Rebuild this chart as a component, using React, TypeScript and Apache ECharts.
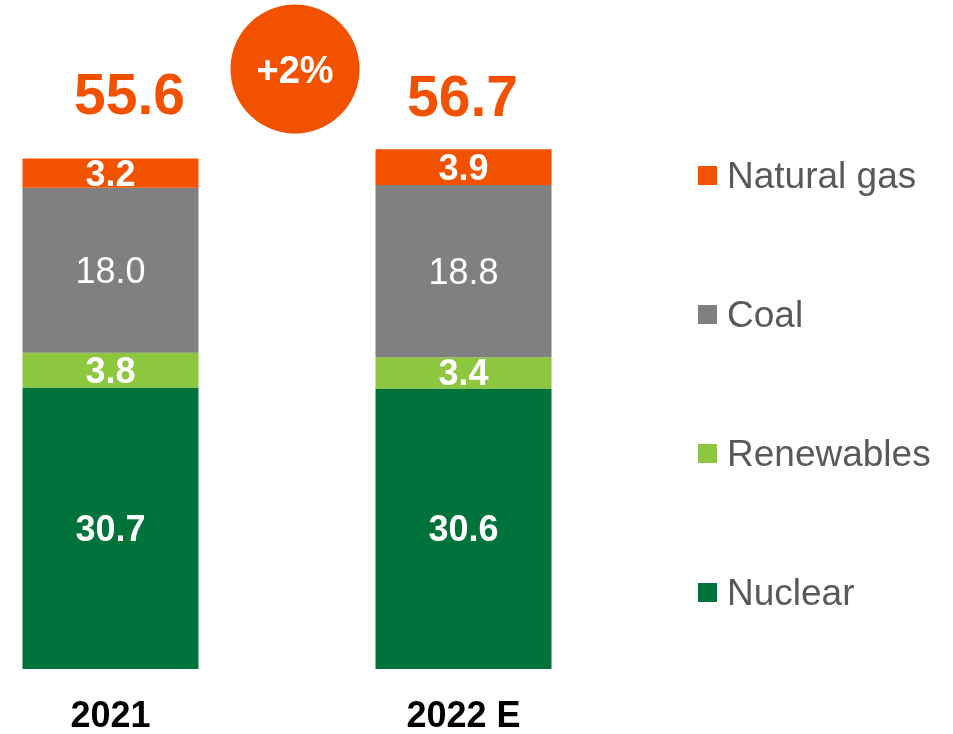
import React, { useEffect, useRef } from "react";
import * as echarts from "echarts";

const categories = ["2021", "2022 E"];
const nuclear = [30.7, 30.6];
const renewables = [3.8, 3.4];
const coal = [18.0, 18.8];
const naturalGas = [3.2, 3.9];
const totals = [55.6, 56.7];
const growthLabel = "+2%";

const FONT = "Arial, 'Liberation Sans', sans-serif";
const ORANGE = "#F25100";
const SHIFT = 66; // chart canvas extends past the left page edge

export default function App() {
  const ref = useRef<HTMLDivElement>(null);
  useEffect(() => {
    if (!ref.current) return;
    const chart = echarts.init(ref.current, undefined, { renderer: "svg" });
    const inner = (bold: boolean) => ({
      show: true,
      position: "inside" as const,
      color: "#ffffff",
      fontSize: 36,
      fontWeight: bold ? ("bold" as const) : ("normal" as const),
      fontFamily: FONT,
      formatter: (p: any) => Number(p.value).toFixed(1),
    });
    const totalOffsets = [
      [19, -36],
      [-1, -25],
    ];
    chart.setOption({
      animation: false,
      textStyle: { fontFamily: FONT },
      grid: { left: 0, width: 706, top: 119, bottom: 65 },
      xAxis: {
        type: "category",
        data: categories,
        axisLine: { show: false },
        axisTick: { show: false },
        axisLabel: {
          color: "#000000",
          fontSize: 36,
          lineHeight: 30,
          fontWeight: "bold",
          fontFamily: FONT,
          margin: 30,
        },
      },
      yAxis: {
        type: "value",
        min: 0,
        max: 60,
        show: false,
        splitLine: { show: false },
      },
      legend: {
        orient: "vertical",
        left: 698 + SHIFT,
        top: 157,
        padding: 0,
        itemGap: 102,
        itemWidth: 19,
        itemHeight: 19,
        icon: "rect",
        data: ["Natural gas", "Coal", "Renewables", "Nuclear"],
        textStyle: {
          fontSize: 37,
          color: "#595959",
          fontFamily: FONT,
          padding: [0, 0, 0, 5],
        },
      },
      series: [
        {
          name: "Nuclear",
          type: "bar",
          stack: "gen",
          barWidth: 176,
          data: nuclear,
          itemStyle: { color: "#00733A" },
          label: inner(true),
        },
        {
          name: "Renewables",
          type: "bar",
          stack: "gen",
          data: renewables,
          itemStyle: { color: "#8DC63F" },
          label: inner(true),
        },
        {
          name: "Coal",
          type: "bar",
          stack: "gen",
          data: coal,
          itemStyle: { color: "#808080" },
          label: inner(false),
        },
        {
          name: "Natural gas",
          type: "bar",
          stack: "gen",
          data: naturalGas,
          itemStyle: { color: ORANGE },
          label: inner(true),
        },
        {
          name: "Total",
          type: "bar",
          stack: "gen",
          data: totals.map((t, i) => ({
            value: 0,
            label: { offset: totalOffsets[i] },
          })),
          itemStyle: { color: "transparent" },
          label: {
            show: true,
            position: "top",
            distance: 0,
            color: ORANGE,
            fontSize: 57,
            fontWeight: "bold",
            fontFamily: FONT,
            formatter: (p: any) => totals[p.dataIndex].toFixed(1),
          },
        },
      ],
      graphic: [
        {
          type: "circle",
          shape: { cx: 295 + SHIFT, cy: 69, r: 64.5 },
          style: { fill: ORANGE },
          silent: true,
        },
        {
          type: "text",
          x: 295 + SHIFT,
          y: 70,
          style: {
            text: growthLabel,
            fill: "#ffffff",
            fontSize: 38,
            fontWeight: "bold",
            fontFamily: FONT,
            align: "center",
            verticalAlign: "middle",
          },
          silent: true,
        },
      ],
    });
    return () => chart.dispose();
  }, []);
  return (
    <div
      ref={ref}
      style={{
        position: "fixed",
        left: -SHIFT,
        top: 0,
        width: 953 + SHIFT,
        height: 734,
      }}
    />
  );
}
